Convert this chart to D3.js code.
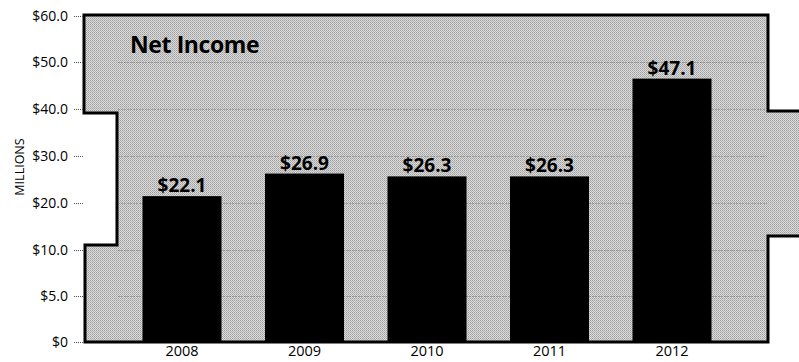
<!DOCTYPE html>
<html>
<head>
<meta charset="utf-8">
<script src="https://cdn.jsdelivr.net/npm/d3@7"></script>
<style>
  html, body { margin: 0; padding: 0; background: #fff; }
  svg { display: block; }
  text { font-family: "Open Sans", "Noto Sans", sans-serif; }
</style>
</head>
<body>
<svg id="chart" width="799" height="362"></svg>
<script>
// ---- data ----
const years = ["2008", "2009", "2010", "2011", "2012"];
const netIncome = [22.1, 26.9, 26.3, 26.3, 47.1];
const valueLabels = ["$22.1", "$26.9", "$26.3", "$26.3", "$47.1"];
const tickValues = [0, 5, 10, 20, 30, 40, 50, 60];
const tickLabels = ["$0", "$5.0", "$10.0", "$20.0", "$30.0", "$40.0", "$50.0", "$60.0"];
const chartTitle = "Net Income";
const axisTitle = "MILLIONS";

const svg = d3.select("#chart");

// piecewise scale: tick labels are equally spaced on the original
const y = d3.scaleLinear()
  .domain(tickValues)
  .range([342, 296, 250, 203, 156, 109, 62, 16]);

const x = d3.scaleBand()
  .domain(years)
  .range([99, 755])
  .padding(0.355);

// halftone pattern
const defs = svg.append("defs");
const pat = defs.append("pattern")
  .attr("id", "halftone").attr("width", 2).attr("height", 2)
  .attr("patternUnits", "userSpaceOnUse");
pat.append("rect").attr("width", 2).attr("height", 2).attr("fill", "#dadada");
pat.append("rect").attr("x", 0).attr("y", 0).attr("width", 1).attr("height", 1).attr("fill", "#a0a0a0");
pat.append("rect").attr("x", 1).attr("y", 1).attr("width", 1).attr("height", 1).attr("fill", "#b2b2b2");

// background plaque shape
const shape = [[84,15],[768,15],[768,111],[806,111],[806,236],[768,236],[768,342],[85,342],[85,245],[117,245],[117,113],[84,113]];
svg.append("path")
  .attr("d", "M" + shape.map(p => p.join(",")).join("L") + "Z")
  .attr("fill", "url(#halftone)")
  .attr("stroke", "#000")
  .attr("stroke-width", 3)
  .attr("stroke-linejoin", "miter");

// faint gridlines
svg.append("g").selectAll("line")
  .data(tickValues.filter(v => v > 0 && v < 60))
  .join("line")
  .attr("x1", 118).attr("x2", 767)
  .attr("y1", d => Math.round(y(d)) + 0.5).attr("y2", d => Math.round(y(d)) + 0.5)
  .attr("stroke", "#707070").attr("stroke-opacity", 0.5)
  .attr("stroke-dasharray", "2,1");

// y axis
const yAxis = d3.axisLeft(y)
  .tickValues(tickValues)
  .tickFormat((d, i) => tickLabels[i])
  .tickSize(10)
  .tickPadding(5);
const gy = svg.append("g").attr("transform", "translate(83,0)").call(yAxis);
gy.select(".domain").remove();
gy.selectAll(".tick line").attr("stroke", "#555").attr("stroke-dasharray", "1,1");
gy.selectAll(".tick text").attr("font-size", 14).attr("fill", "#000");

// axis title
svg.append("text")
  .attr("transform", "translate(24,167) rotate(-90)")
  .attr("text-anchor", "middle")
  .attr("font-size", 12.5)
  .attr("fill", "#000")
  .text(axisTitle);

// bars
svg.append("g").selectAll("rect")
  .data(netIncome)
  .join("rect")
  .attr("x", (d, i) => x(years[i]))
  .attr("width", x.bandwidth())
  .attr("y", d => y(d) + 3)
  .attr("height", d => y(0) - y(d) - 3)
  .attr("fill", "#000");

// value labels
svg.append("g").selectAll("text")
  .data(netIncome)
  .join("text")
  .attr("x", (d, i) => x(years[i]) + x.bandwidth() / 2)
  .attr("y", d => y(d) - 1)
  .attr("text-anchor", "middle")
  .attr("font-size", 19)
  .attr("font-weight", 700)
  .attr("fill", "#000")
  .text((d, i) => valueLabels[i]);

// x axis labels
const xAxis = d3.axisBottom(x).tickSize(0).tickPadding(3);
const gx = svg.append("g").attr("transform", "translate(0,343)").call(xAxis);
gx.select(".domain").remove();
gx.selectAll(".tick text").attr("font-size", 14.5).attr("fill", "#000");

// title
svg.append("text")
  .attr("x", 130).attr("y", 53)
  .attr("font-size", 23)
  .attr("font-weight", 700)
  .attr("letter-spacing", -0.4)
  .attr("fill", "#000")
  .text(chartTitle);
</script>
</body>
</html>
